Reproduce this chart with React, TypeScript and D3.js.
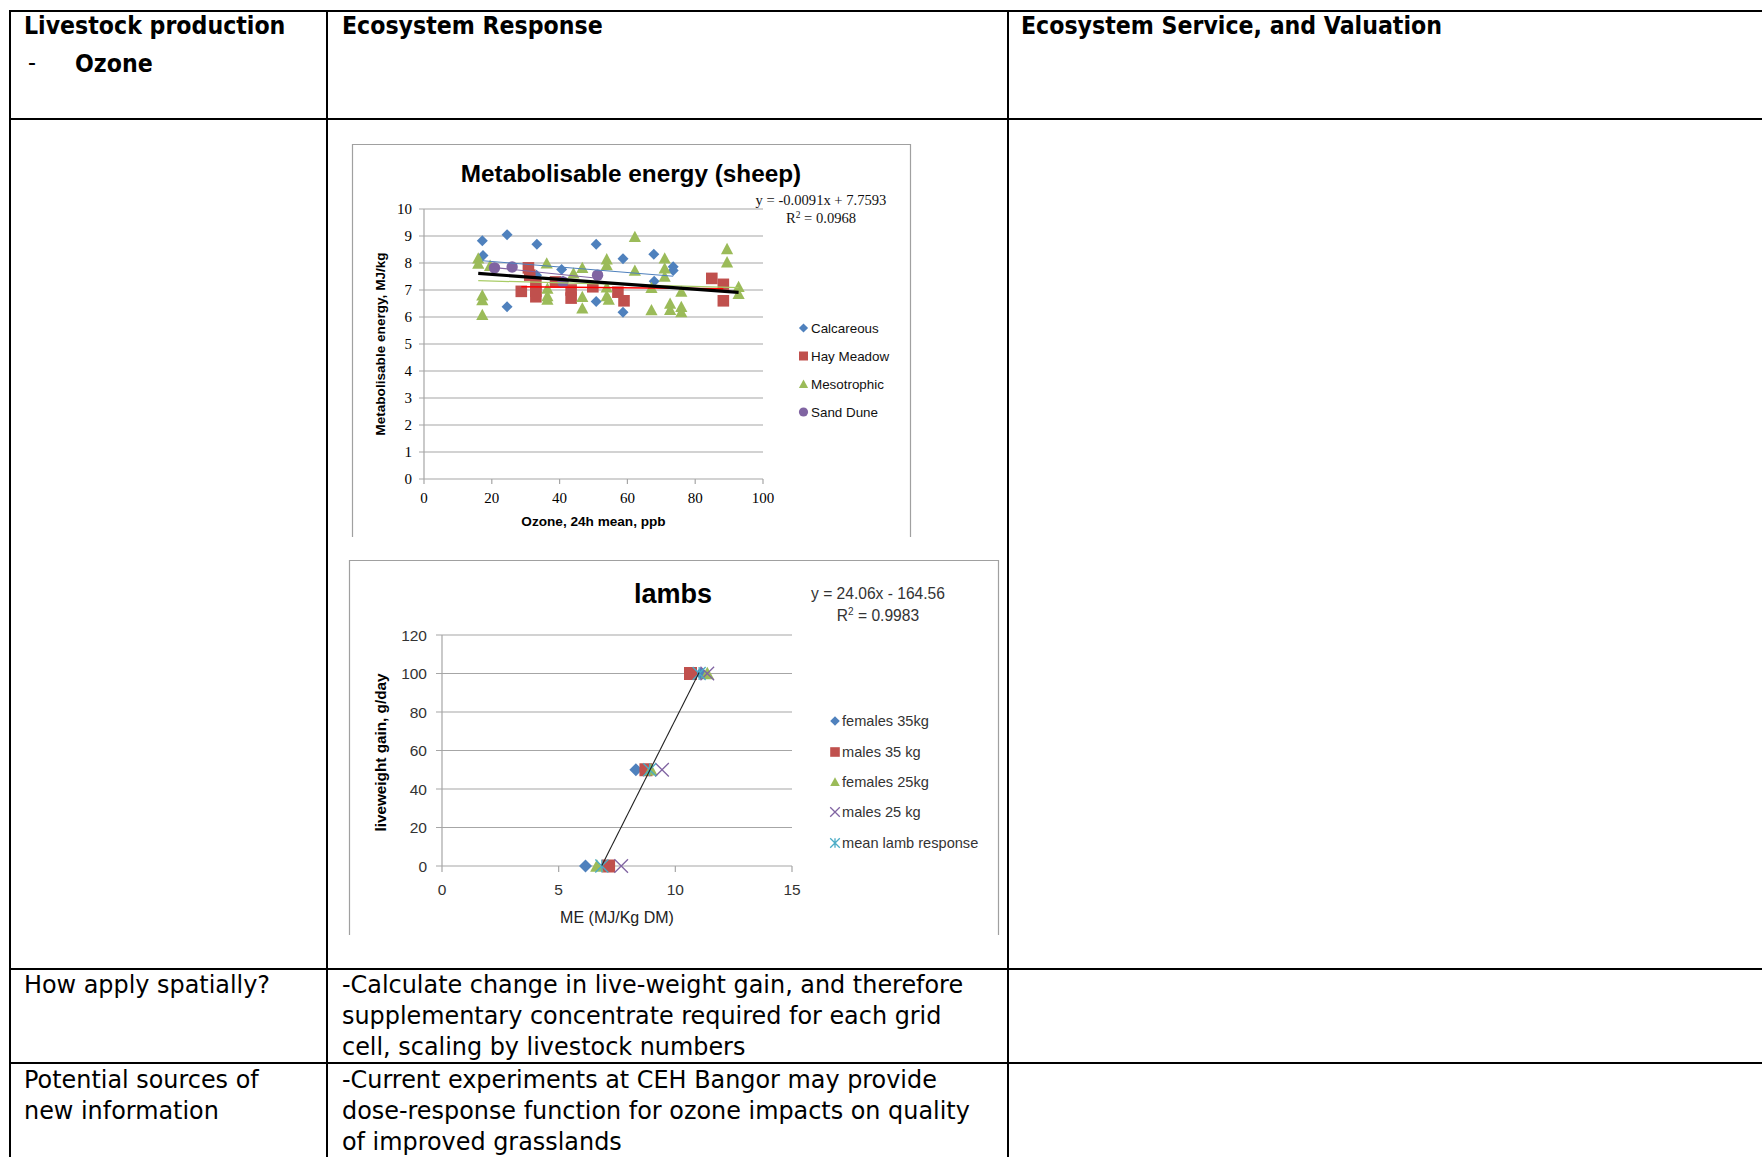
import React from 'react';
import * as d3 from 'd3';

// ---------- Chart 1: Metabolisable energy (sheep) ----------
const ozoneTicks = [0, 20, 40, 60, 80, 100];
const energyTicks = [0, 1, 2, 3, 4, 5, 6, 7, 8, 9, 10];
const calcareous: [number, number][] = [
  [17.2, 8.82], [17.4, 8.28], [24.5, 9.05], [24.5, 6.38], [33.3, 8.69], [33.2, 7.55],
  [40.6, 7.76], [41.0, 7.32], [50.8, 8.69], [50.8, 6.57], [58.7, 8.16], [58.7, 6.18],
  [67.8, 8.32], [67.9, 7.32], [73.5, 7.86], [73.5, 7.72],
];
const hayMeadow: [number, number][] = [
  [28.7, 6.95], [30.8, 7.82], [31.2, 7.55], [33.0, 7.2], [33.0, 6.95], [33.0, 6.75],
  [38.8, 7.3], [43.4, 7.0], [43.4, 6.7], [49.8, 7.12], [57.2, 6.92], [59.0, 6.6],
  [84.9, 7.43], [88.3, 7.21], [88.3, 6.6],
];
const mesotrophic: [number, number][] = [
  [16.0, 8.17], [16.0, 7.98], [17.2, 6.8], [17.2, 6.63], [17.2, 6.08], [19.5, 7.9],
  [36.2, 7.99], [36.4, 7.05], [36.4, 6.78], [36.4, 6.65], [44.1, 7.62], [46.7, 7.82],
  [46.7, 6.75], [46.7, 6.32], [53.9, 8.14], [53.9, 7.92], [53.9, 7.1], [53.9, 6.78],
  [54.5, 6.65], [62.2, 8.97], [62.2, 7.72], [67.1, 7.08], [67.1, 6.26], [71.0, 8.17],
  [71.0, 7.8], [71.0, 7.5], [72.6, 6.5], [72.6, 6.27], [75.9, 6.94], [75.9, 6.38],
  [75.9, 6.18], [89.4, 8.52], [89.4, 8.03], [92.8, 7.12], [92.8, 6.86],
];
const sandDune: [number, number][] = [
  [20.8, 7.82], [26.0, 7.85], [41.0, 7.3], [51.2, 7.55],
];
const sheepSeriesNames = ['Calcareous', 'Hay Meadow', 'Mesotrophic', 'Sand Dune'];
const sheepSlopes = [-0.0102, -0.0013, -0.0034, -0.013];
const sheepIntercepts = [8.26, 7.16, 7.40, 8.10];
const overallSlope = -0.0091;
const overallIntercept = 7.7593;
const overallR2 = '0.0968';

// ---------- Chart 2: lambs ----------
const meTicks = [0, 5, 10, 15];
const gainTicks = [0, 20, 40, 60, 80, 100, 120];
const females35: [number, number][] = [[6.15, 0], [8.31, 50], [11.1, 100]];
const males35: [number, number][] = [[7.14, 0], [8.74, 50], [10.65, 100]];
const females25: [number, number][] = [[6.64, 0], [8.95, 50], [11.37, 100]];
const males25: [number, number][] = [[7.68, 0], [9.43, 50], [11.37, 100]];
const meanLamb: [number, number][] = [[6.85, 0], [8.9, 50], [11.02, 100]];
const lambSeriesNames = ['females 35kg', 'males 35 kg', 'females 25kg', 'males 25 kg', 'mean lamb response'];
const lambSlope = 24.06;
const lambIntercept = -164.56;
const lambR2 = '0.9983';

// ---------- Table text ----------
const headerCells = ['Livestock production', 'Ecosystem Response', 'Ecosystem Service, and Valuation'];
const howLabel = ['How apply spatially?'];
const howText = [
  '-Calculate change in live-weight gain, and therefore',
  'supplementary concentrate required for each grid',
  'cell, scaling by livestock numbers',
];
const sourcesLabel = ['Potential sources of', 'new information'];
const sourcesText = [
  '-Current experiments at CEH Bangor may provide',
  'dose-response function for ozone impacts on quality',
  'of improved grasslands',
];

const BLUE = '#4F81BD';
const RED = '#C0504D';
const GREEN = '#9BBB59';
const PURPLE = '#8064A2';
const CYAN = '#4BACC6';

const TABLE_BOLD_FONT = "'DejaVu Sans Condensed', 'Liberation Sans', sans-serif";
const TABLE_FONT = "'DejaVu Sans', 'Liberation Sans', sans-serif";
const SANS = "'Liberation Sans', Arial, sans-serif";
const SERIF = "'Liberation Serif', 'Times New Roman', serif";
const GRID = '#a6a6a6';

type Shape = 'diamond' | 'square' | 'triangle' | 'circle' | 'x' | 'asterisk';

function Marker({ shape, cx, cy, s, color }: { shape: Shape; cx: number; cy: number; s: number; color: string }) {
  const t = `translate(${cx},${cy})`;
  if (shape === 'circle') return <circle cx={cx} cy={cy} r={s} fill={color} />;
  if (shape === 'diamond') return <path transform={t} d={`M0,${-s}L${s},0L0,${s}L${-s},0Z`} fill={color} />;
  if (shape === 'square') return <path transform={t} d={`M${-s},${-s}h${2 * s}v${2 * s}h${-2 * s}Z`} fill={color} />;
  if (shape === 'triangle')
    return <path transform={t} d={`M0,${-s}L${s},${s * 0.85}L${-s},${s * 0.85}Z`} fill={color} />;
  if (shape === 'x')
    return <path transform={t} d={`M${-s},${-s}L${s},${s}M${-s},${s}L${s},${-s}`} stroke={color} strokeWidth={1.3} fill="none" />;
  return (
    <path
      transform={t}
      d={`M${-s},${-s}L${s},${s}M${-s},${s}L${s},${-s}M0,${-s}L0,${s}`}
      stroke={color}
      strokeWidth={1.3}
      fill="none"
    />
  );
}

function SheepChart() {
  const x = d3.scaleLinear().domain([0, 100]).range([424, 763]);
  const y = d3.scaleLinear().domain([0, 10]).range([479, 209]);
  const series = [calcareous, hayMeadow, mesotrophic, sandDune];
  const shapes: Shape[] = ['diamond', 'square', 'triangle', 'circle'];
  const colors = [BLUE, RED, GREEN, PURPLE];
  const sizes = [5.5, 5.8, 6.1, 5.7];
  const trendColors = [BLUE, '#FF0000', '#a9cc66', PURPLE];
  const trendWidths = [1, 1.6, 1.2, 1.2];
  const line = d3.line<[number, number]>().x((d) => x(d[0])).y((d) => y(d[1]));
  const allX = series.flat().map((d) => d[0]);
  const [minAll, maxAll] = d3.extent(allX) as [number, number];
  const legendY = [328, 356, 384, 412];
  return (
    <g>
      {/* frame */}
      <path d="M352.5,537V144.5H910.5V537" fill="none" stroke="#a0a0a0" strokeWidth={1.2} />
      <text x={631} y={182} textAnchor="middle" fontFamily={SANS} fontWeight="bold" fontSize={24.3} fill="#000">
        Metabolisable energy (sheep)
      </text>
      {/* gridlines */}
      {energyTicks.map((t) => (
        <line key={t} x1={x(0) - 5} x2={x(100)} y1={y(t)} y2={y(t)} stroke={GRID} strokeWidth={1.2} />
      ))}
      <line x1={x(0)} x2={x(0)} y1={y(10)} y2={y(0)} stroke={GRID} strokeWidth={1.2} />
      {ozoneTicks.map((t) => (
        <line key={t} x1={x(t)} x2={x(t)} y1={y(0)} y2={y(0) + 5} stroke={GRID} strokeWidth={1.2} />
      ))}
      {energyTicks.map((t) => (
        <text key={t} x={412} y={y(t) + 5} textAnchor="end" fontFamily={SERIF} fontSize={15} fill="#000">
          {t}
        </text>
      ))}
      {ozoneTicks.map((t) => (
        <text key={t} x={x(t)} y={503} textAnchor="middle" fontFamily={SERIF} fontSize={15} fill="#000">
          {t}
        </text>
      ))}
      <text
        transform={`translate(385,${(y(0) + y(10)) / 2}) rotate(-90)`}
        textAnchor="middle"
        fontFamily={SANS}
        fontWeight="bold"
        fontSize={13.6}
      >
        Metabolisable energy, MJ/kg
      </text>
      <text x={(x(0) + x(100)) / 2} y={526} textAnchor="middle" fontFamily={SANS} fontWeight="bold" fontSize={13.6}>
        Ozone, 24h mean, ppb
      </text>
      {/* points */}
      {series.map((s, i) => (
        <g key={i}>
          {s.map((d, j) => (
            <Marker key={j} shape={shapes[i]} cx={x(d[0])} cy={y(d[1])} s={sizes[i]} color={colors[i]} />
          ))}
        </g>
      ))}
      {/* trendlines per series */}
      {series.map((s, i) => {
        const [a, b] = d3.extent(s.map((d) => d[0])) as [number, number];
        const pts: [number, number][] = [a, b].map((v) => [v, sheepIntercepts[i] + sheepSlopes[i] * v]);
        return <path key={i} d={line(pts) || ''} stroke={trendColors[i]} strokeWidth={trendWidths[i]} fill="none" />;
      })}
      <path
        d={line([minAll, maxAll].map((v) => [v, overallIntercept + overallSlope * v]) as [number, number][]) || ''}
        stroke="#000"
        strokeWidth={3.2}
        fill="none"
      />
      <text x={821} y={205} textAnchor="middle" fontFamily={SERIF} fontSize={14.6} fill="#111">
        {`y = ${overallSlope.toFixed(4)}x  + ${overallIntercept}`}
      </text>
      <text x={821} y={223} textAnchor="middle" fontFamily={SERIF} fontSize={14.6} fill="#111">
        R<tspan dy={-5} fontSize={9.5}>2</tspan>
        <tspan dy={5}>{` = ${overallR2}`}</tspan>
      </text>
      {/* legend */}
      {sheepSeriesNames.map((n, i) => (
        <g key={n}>
          <Marker shape={shapes[i]} cx={803.5} cy={legendY[i]} s={i === 1 ? 4.5 : 4.6} color={colors[i]} />
          <text x={811} y={legendY[i] + 4.7} fontFamily={SANS} fontSize={13.4} fill="#111">
            {n}
          </text>
        </g>
      ))}
    </g>
  );
}

function LambChart() {
  const x = d3.scaleLinear().domain([0, 15]).range([442, 792]);
  const y = d3.scaleLinear().domain([0, 120]).range([866, 635]);
  const series = [females35, males35, females25, males25, meanLamb];
  const shapes: Shape[] = ['diamond', 'square', 'triangle', 'x', 'asterisk'];
  const colors = [BLUE, RED, GREEN, PURPLE, CYAN];
  const sizes = [6.5, 6.5, 6.8, 6.8, 6.5];
  const legendY = [721, 752, 782, 812, 843];
  const line = d3.line<[number, number]>().x((d) => x(d[0])).y((d) => y(d[1]));
  const [ma, mb] = d3.extent(meanLamb.map((d) => d[0])) as [number, number];
  const trend: [number, number][] = [ma, mb].map((v) => [v, lambSlope * v + lambIntercept]);
  return (
    <g>
      <path d="M349.5,935V560.5H998.5V935" fill="none" stroke="#a0a0a0" strokeWidth={1.2} />
      <text x={673} y={603} textAnchor="middle" fontFamily={SANS} fontWeight="bold" fontSize={27}>
        lambs
      </text>
      <text x={878} y={599} textAnchor="middle" fontFamily={SANS} fontSize={15.6} fill="#333">
        {`y = ${lambSlope}x - ${Math.abs(lambIntercept)}`}
      </text>
      <text x={878} y={621} textAnchor="middle" fontFamily={SANS} fontSize={15.6} fill="#333">
        R<tspan dy={-6} fontSize={10}>2</tspan>
        <tspan dy={6}>{` = ${lambR2}`}</tspan>
      </text>
      {gainTicks.map((t) => (
        <line key={t} x1={x(0) - 6} x2={x(15)} y1={y(t)} y2={y(t)} stroke={GRID} strokeWidth={1.2} />
      ))}
      <line x1={x(0)} x2={x(0)} y1={y(120)} y2={y(0)} stroke={GRID} strokeWidth={1.2} />
      {meTicks.map((t) => (
        <line key={t} x1={x(t)} x2={x(t)} y1={y(0)} y2={y(0) + 6} stroke={GRID} strokeWidth={1.2} />
      ))}
      {gainTicks.map((t) => (
        <text key={t} x={427} y={y(t) + 5.5} textAnchor="end" fontFamily={SANS} fontSize={15.5} fill="#333">
          {t}
        </text>
      ))}
      {meTicks.map((t) => (
        <text key={t} x={x(t)} y={895} textAnchor="middle" fontFamily={SANS} fontSize={15.5} fill="#333">
          {t}
        </text>
      ))}
      <text
        transform={`translate(386,${(y(0) + y(120)) / 2 + 2}) rotate(-90)`}
        textAnchor="middle"
        fontFamily={SANS}
        fontWeight="bold"
        fontSize={15.3}
      >
        liveweight gain, g/day
      </text>
      <text x={(x(0) + x(15)) / 2} y={923} textAnchor="middle" fontFamily={SANS} fontSize={16} fill="#222">
        ME (MJ/Kg DM)
      </text>
      {series.map((s, i) => (
        <g key={i}>
          {s.map((d, j) => (
            <Marker key={j} shape={shapes[i]} cx={x(d[0])} cy={y(d[1])} s={sizes[i]} color={colors[i]} />
          ))}
        </g>
      ))}
      <path d={line(trend) || ''} stroke="#222" strokeWidth={1.1} fill="none" />
      {lambSeriesNames.map((n, i) => (
        <g key={n}>
          <Marker shape={shapes[i]} cx={835} cy={legendY[i]} s={4.8} color={colors[i]} />
          <text x={842} y={legendY[i] + 5} fontFamily={SANS} fontSize={14.6} fill="#333">
            {n}
          </text>
        </g>
      ))}
    </g>
  );
}

function Table() {
  const lw = 2;
  const fsb = 24.6;
  const fs = 23.9;
  return (
    <g fontFamily={TABLE_FONT} fill="#000">
      {/* borders */}
      <line x1={9} x2={1762} y1={11} y2={11} stroke="#000" strokeWidth={lw} />
      <line x1={9} x2={1762} y1={119} y2={119} stroke="#000" strokeWidth={lw} />
      <line x1={9} x2={1762} y1={969} y2={969} stroke="#000" strokeWidth={lw} />
      <line x1={9} x2={1762} y1={1063} y2={1063} stroke="#000" strokeWidth={lw} />
      <line x1={10} x2={10} y1={10} y2={1157} stroke="#000" strokeWidth={lw} />
      <line x1={327} x2={327} y1={10} y2={1157} stroke="#000" strokeWidth={lw} />
      <line x1={1008} x2={1008} y1={10} y2={1157} stroke="#000" strokeWidth={lw} />
      {/* header */}
      <g fontFamily={TABLE_BOLD_FONT}>
        <text x={24} y={34} fontWeight="bold" fontSize={fsb}>{headerCells[0]}</text>
        <text x={28} y={71} fontSize={fsb}>-</text>
        <text x={75} y={72} fontWeight="bold" fontSize={fsb}>Ozone</text>
        <text x={342} y={34} fontWeight="bold" fontSize={fsb}>{headerCells[1]}</text>
        <text x={1021} y={34} fontWeight="bold" fontSize={fsb}>{headerCells[2]}</text>
      </g>
      {/* row 3 */}
      {howLabel.map((t, i) => (
        <text key={t} x={24} y={993 + i * 31} fontSize={fs}>{t}</text>
      ))}
      {howText.map((t, i) => (
        <text key={t} x={342} y={993 + i * 31} fontSize={fs}>{t}</text>
      ))}
      {/* row 4 */}
      {sourcesLabel.map((t, i) => (
        <text key={t} x={24} y={1088 + i * 31} fontSize={fs}>{t}</text>
      ))}
      {sourcesText.map((t, i) => (
        <text key={t} x={342} y={1088 + i * 31} fontSize={fs}>{t}</text>
      ))}
    </g>
  );
}

export default function App() {
  return (
    <svg
      width={1762}
      height={1157}
      viewBox="0 0 1762 1157"
      style={{ position: 'absolute', left: 0, top: 0, background: '#fff' }}
    >
      <rect x={0} y={0} width={1762} height={1157} fill="#fff" />
      <Table />
      <SheepChart />
      <LambChart />
    </svg>
  );
}
